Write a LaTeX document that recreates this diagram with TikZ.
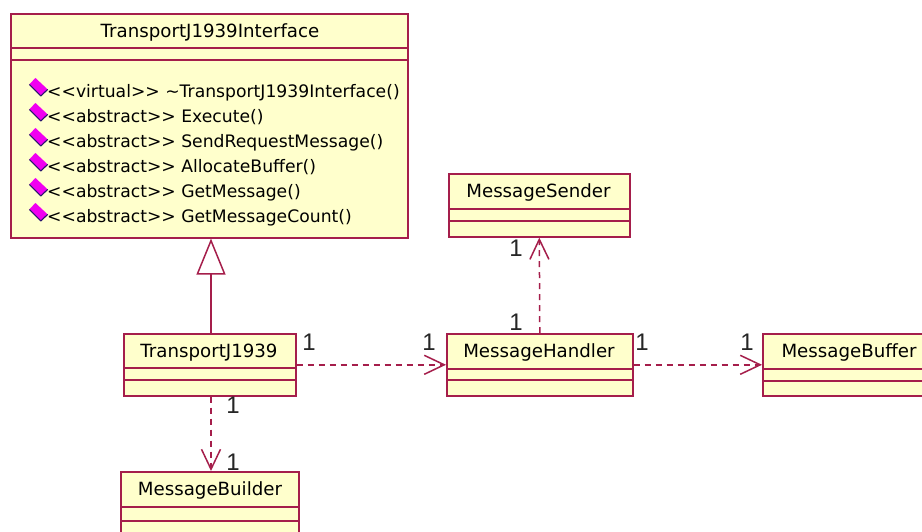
\documentclass[tikz,border=0pt]{standalone}
\usepackage{fontspec}
\setmainfont{DejaVu Sans}
\newfontfamily\multfont{Liberation Sans}
\usetikzlibrary{arrows.meta,calc}

\definecolor{umlline}{RGB}{165,30,75}
\definecolor{umlfill}{RGB}{255,255,204}
\definecolor{opfill}{RGB}{240,0,240}
\definecolor{opedge}{RGB}{40,20,110}

\tikzset{
  classbox/.style={draw=umlline, fill=umlfill, line width=1.6pt, inner sep=0pt, anchor=north west},
  divider/.style={draw=umlline, line width=1.6pt},
  classname/.style={font=\fontsize{18.2}{18}\selectfont, inner sep=0pt, anchor=base},
  opname/.style={font=\fontsize{17.2}{17}\selectfont, inner sep=0pt, anchor=base west},
  mult/.style={font=\multfont\fontsize{24}{24}\selectfont, inner sep=0pt, text=black!85},
  depend/.style={draw=umlline, line width=1.5pt, dash pattern=on 6pt off 5pt,
    -{Straight Barb[length=20pt,width=19pt]}},
  realize/.style={draw=umlline, line width=1.5pt,
    -{Triangle[open,length=36pt,width=29pt,fill=white]}},
}

% class box: name, x1, y1, x2, y2, divider 1, divider 2
\newcommand\umlclass[7]{%
  \node[classbox, minimum width={(#4-#2)*1pt}, minimum height={(#5-#3)*1pt}] (#1) at (#2,#3) {};
  \draw[divider] (#2,#6) -- (#4,#6);
  \draw[divider] (#2,#7) -- (#4,#7);
}

% operation icon centred at (x,y)
\newcommand\opicon[2]{%
  \begin{scope}[shift={(#1,#2)}, scale=1.15]
    \fill[opfill] (-8,-2.2) -- (-2.7,-7.9) -- (8,2.1) -- (2,7.8) -- cycle;
    \draw[opedge, line width=1.1pt, line join=round] (-8,-2.2) -- (2,7.8) -- (8,2.1);
  \end{scope}
}

\begin{document}
\begin{tikzpicture}[x=1pt,y=-1pt]
  \useasboundingbox (0,0) rectangle (922,531);
  \fill[white] (0,0) rectangle (922,531);
  \clip (0,0) rectangle (922,531);

  % classes
  \umlclass{iface}{10}{13}{407}{237}{48}{60}
  \umlclass{tj}{123}{333}{295}{395}{368}{380}
  \umlclass{ms}{448}{173}{629}{236}{209}{221}
  \umlclass{mh}{446}{333}{632}{395}{369}{380}
  \umlclass{mbuf}{762}{333}{936}{395}{369}{381}
  \umlclass{mbld}{120}{471}{298}{540}{507}{521}

  % class names
  \node[classname] (ifaceT) at (210,37.5) {TransportJ1939Interface};
  \node[classname] (tjT) at (209,357) {TransportJ1939};
  \node[classname] (msT) at (538.5,197.5) {MessageSender};
  \node[classname] (mhT) at (539,357.5) {MessageHandler};
  \node[classname] (mbufT) at (849,357.5) {MessageBuffer};
  \node[classname] (mbldT) at (210,495.5) {MessageBuilder};

  % operations of the interface
  \foreach \r in {0,...,5} {\opicon{38.5}{87+25*\r}}
  \node[opname] (op1) at (47,97) {<{}<virtual>{}> \textasciitilde TransportJ1939Interface()};
  \node[opname] (op2) at (47,122) {<{}<abstract>{}> Execute()};
  \node[opname] (op3) at (47,147) {<{}<abstract>{}> SendRequestMessage()};
  \node[opname] (op4) at (47,172) {<{}<abstract>{}> AllocateBuffer()};
  \node[opname] (op5) at (47,197) {<{}<abstract>{}> GetMessage()};
  \node[opname] (op6) at (47,222) {<{}<abstract>{}> GetMessageCount()};

  % connectors
  \coordinate (gx) at (211,0);
  \draw[realize] (tj.north -| gx) -- (iface.south -| gx);
  \draw[depend] (tj.east) -- (tj.east -| mh.west);
  \draw[depend] (mh.east) -- (mh.east -| mbuf.west);
  \draw[depend] (mh.north) -- (ms.south);
  \draw[depend] (tj.south -| gx) -- (mbld.north -| gx);

  % multiplicities
  \node[mult] (m1) at (309,342) {1};
  \node[mult] (m2) at (429,342) {1};
  \node[mult] (m3) at (516,248) {1};
  \node[mult] (m4) at (516,322) {1};
  \node[mult] (m5) at (642,342) {1};
  \node[mult] (m6) at (747,342) {1};
  \node[mult] (m7) at (233,405) {1};
  \node[mult] (m8) at (233,462) {1};
\end{tikzpicture}
\end{document}
